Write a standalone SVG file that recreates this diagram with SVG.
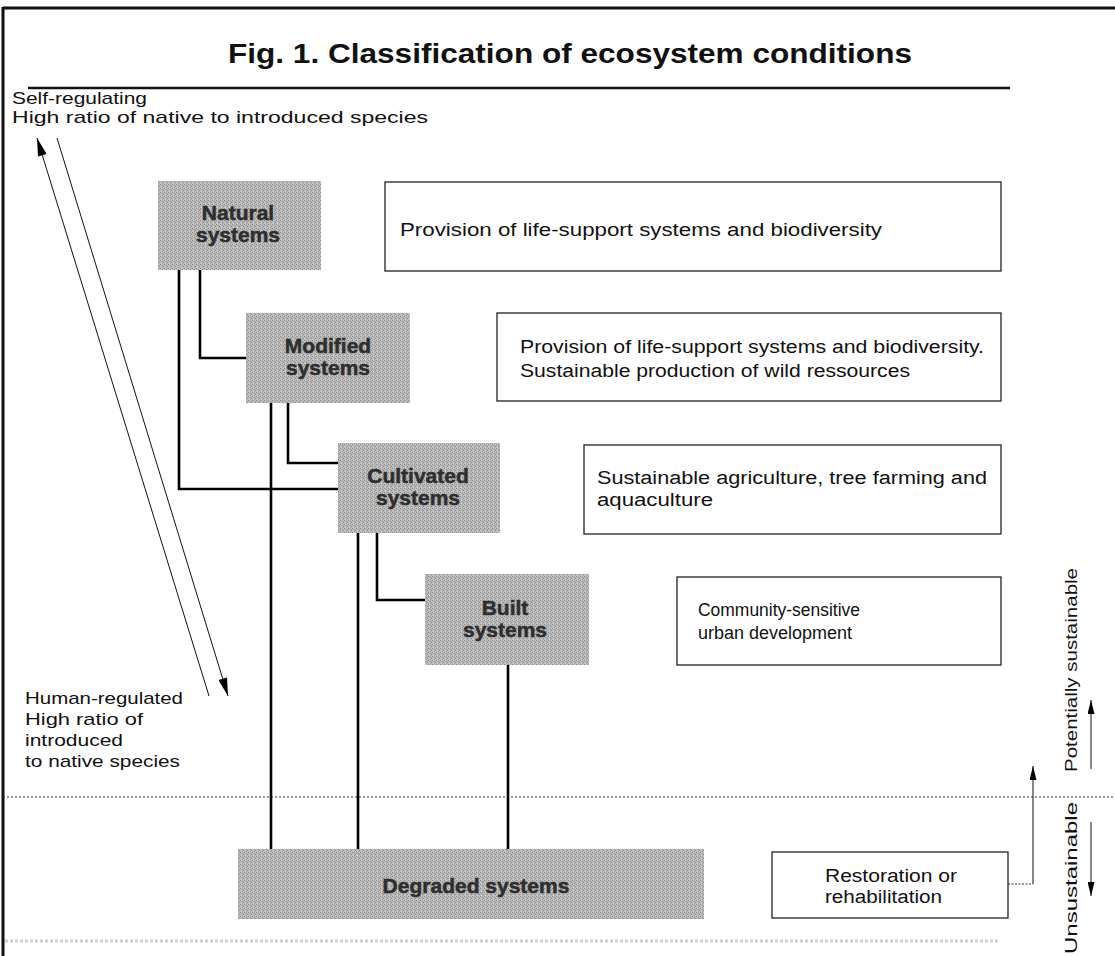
<svg xmlns="http://www.w3.org/2000/svg" width="1115" height="956" viewBox="0 0 1115 956">
<style>
.frame{stroke:#111;fill:none}
.node{fill:url(#stip)}
.nlabel{font-family:"Liberation Sans",Arial,sans-serif;font-weight:bold;font-size:21px;fill:#2e2e2e;stroke:#2e2e2e;stroke-width:0.5;text-anchor:middle}
.box{fill:#fff;stroke:#222;stroke-width:1.3}
.btext{font-family:"Liberation Sans",Arial,sans-serif;font-size:18px;fill:#111}
.side{font-family:"Liberation Sans",Arial,sans-serif;font-size:17px;fill:#111}
.conn{stroke:#000;stroke-width:2.6;fill:none}
.thin{stroke:#111;stroke-width:1;fill:none}
</style>
<defs>
<pattern id="stip" width="4" height="4" patternUnits="userSpaceOnUse">
<rect width="4" height="4" fill="#bababa"/>
<rect x="0" y="0" width="1" height="1" fill="#8c8c8c"/>
<rect x="2" y="1" width="1" height="1" fill="#999999"/>
<rect x="1" y="3" width="1" height="1" fill="#d4d4d4"/>
<rect x="3" y="2" width="1" height="1" fill="#909090"/>
<rect x="2" y="3" width="1" height="1" fill="#a3a3a3"/>
</pattern>
<marker id="bigHead" viewBox="0 0 20 10" refX="20" refY="5" markerWidth="27" markerHeight="9" markerUnits="userSpaceOnUse" orient="auto">
<path d="M0,0 L20,5 L0,10 z" fill="#000"/>
</marker>
<marker id="smallHead" viewBox="0 0 20 10" refX="20" refY="5" markerWidth="20" markerHeight="7" markerUnits="userSpaceOnUse" orient="auto">
<path d="M0,0 L20,5 L0,10 z" fill="#000"/>
</marker>
</defs>

<rect width="1115" height="956" fill="#fff"/>

<g id="frame">
<line class="frame" x1="3" y1="8" x2="1115" y2="8" stroke-width="3"/>
<line class="frame" x1="3" y1="7" x2="3" y2="956" stroke-width="3"/>
<line class="frame" x1="28" y1="88" x2="1010" y2="88" stroke-width="2.5"/>
<line x1="3" y1="797" x2="1115" y2="797" stroke="#333" stroke-width="1.2" stroke-dasharray="2 2"/>
<line x1="5" y1="941" x2="1000" y2="941" stroke="#d0d0d0" stroke-width="3" stroke-dasharray="3 2"/>
</g>

<text x="228" y="63" font-family="Liberation Sans,Arial,sans-serif" font-weight="bold" font-size="28" fill="#111" textLength="684" lengthAdjust="spacingAndGlyphs">Fig. 1. Classification of ecosystem conditions</text>

<g id="side-labels">
<text class="side" x="12" y="104" textLength="135" lengthAdjust="spacingAndGlyphs">Self-regulating</text>
<text class="side" x="12" y="123" textLength="416" lengthAdjust="spacingAndGlyphs">High ratio of native to introduced species</text>
<text class="side" x="25" y="704" font-size="18" textLength="158" lengthAdjust="spacingAndGlyphs">Human-regulated</text>
<text class="side" x="25" y="725" font-size="18" textLength="118" lengthAdjust="spacingAndGlyphs">High ratio of</text>
<text class="side" x="25" y="746" font-size="18" textLength="98" lengthAdjust="spacingAndGlyphs">introduced</text>
<text class="side" x="25" y="767" font-size="18" textLength="155" lengthAdjust="spacingAndGlyphs">to native species</text>
<text class="side" font-size="20" transform="translate(1077,772) rotate(-90)" textLength="204" lengthAdjust="spacingAndGlyphs">Potentially sustainable</text>
<text class="side" font-size="20" transform="translate(1077,954) rotate(-90)" textLength="152" lengthAdjust="spacingAndGlyphs">Unsustainable</text>
</g>

<g id="connectors">
<polyline class="conn" points="179,270 179,489 338,489"/>
<polyline class="conn" points="200,270 200,358 246,358"/>
<polyline class="conn" points="271,403 271,849"/>
<polyline class="conn" points="288,403 288,463 338,463"/>
<polyline class="conn" points="358,533 358,849"/>
<polyline class="conn" points="377,533 377,600 425,600"/>
<polyline class="conn" points="508,665 508,849"/>
<line class="thin" x1="209" y1="696" x2="37" y2="138" marker-end="url(#bigHead)"/>
<line class="thin" x1="57" y1="138" x2="228" y2="696" marker-end="url(#bigHead)"/>
<line x1="1008" y1="884" x2="1033" y2="884" stroke="#333" stroke-width="1" stroke-dasharray="2 1.5"/>
<line class="thin" x1="1033" y1="884" x2="1033" y2="766" marker-end="url(#smallHead)"/>
<line class="thin" x1="1091" y1="769" x2="1091" y2="700" marker-end="url(#smallHead)"/>
<line class="thin" x1="1091" y1="822" x2="1091" y2="896" marker-end="url(#smallHead)"/>
</g>

<g id="natural">
<rect class="node" x="158" y="181" width="163" height="89"/>
<text class="nlabel" x="238" y="220">Natural</text>
<text class="nlabel" x="238" y="242">systems</text>
</g>
<g id="modified">
<rect class="node" x="246" y="313" width="164" height="90"/>
<text class="nlabel" x="328" y="353">Modified</text>
<text class="nlabel" x="328" y="375">systems</text>
</g>
<g id="cultivated">
<rect class="node" x="338" y="443" width="162" height="90"/>
<text class="nlabel" x="418" y="483">Cultivated</text>
<text class="nlabel" x="418" y="505">systems</text>
</g>
<g id="built">
<rect class="node" x="425" y="574" width="164" height="91"/>
<text class="nlabel" x="505" y="615">Built</text>
<text class="nlabel" x="505" y="637">systems</text>
</g>
<g id="degraded">
<rect class="node" x="238" y="849" width="466" height="70"/>
<text class="nlabel" x="476" y="893">Degraded systems</text>
</g>

<g id="box-natural">
<rect class="box" x="385" y="182" width="616" height="89"/>
<text class="btext" x="400" y="236" textLength="482" lengthAdjust="spacingAndGlyphs">Provision of life-support systems and biodiversity</text>
</g>
<g id="box-modified">
<rect class="box" x="497" y="313" width="504" height="88"/>
<text class="btext" x="520" y="353" textLength="464" lengthAdjust="spacingAndGlyphs">Provision of life-support systems and biodiversity.</text>
<text class="btext" x="520" y="377" textLength="390" lengthAdjust="spacingAndGlyphs">Sustainable production of wild ressources</text>
</g>
<g id="box-cultivated">
<rect class="box" x="584" y="445" width="417" height="89"/>
<text class="btext" x="597" y="484" textLength="390" lengthAdjust="spacingAndGlyphs">Sustainable agriculture, tree farming and</text>
<text class="btext" x="597" y="506" textLength="116" lengthAdjust="spacingAndGlyphs">aquaculture</text>
</g>
<g id="box-built">
<rect class="box" x="677" y="577" width="324" height="88"/>
<text class="btext" x="698" y="616" textLength="162" lengthAdjust="spacingAndGlyphs">Community-sensitive</text>
<text class="btext" x="698" y="639" textLength="154" lengthAdjust="spacingAndGlyphs">urban development</text>
</g>
<g id="box-restoration">
<rect class="box" x="772" y="852" width="236" height="66"/>
<text class="btext" x="825" y="882" textLength="132" lengthAdjust="spacingAndGlyphs">Restoration or</text>
<text class="btext" x="825" y="903" textLength="117" lengthAdjust="spacingAndGlyphs">rehabilitation</text>
</g>
</svg>
